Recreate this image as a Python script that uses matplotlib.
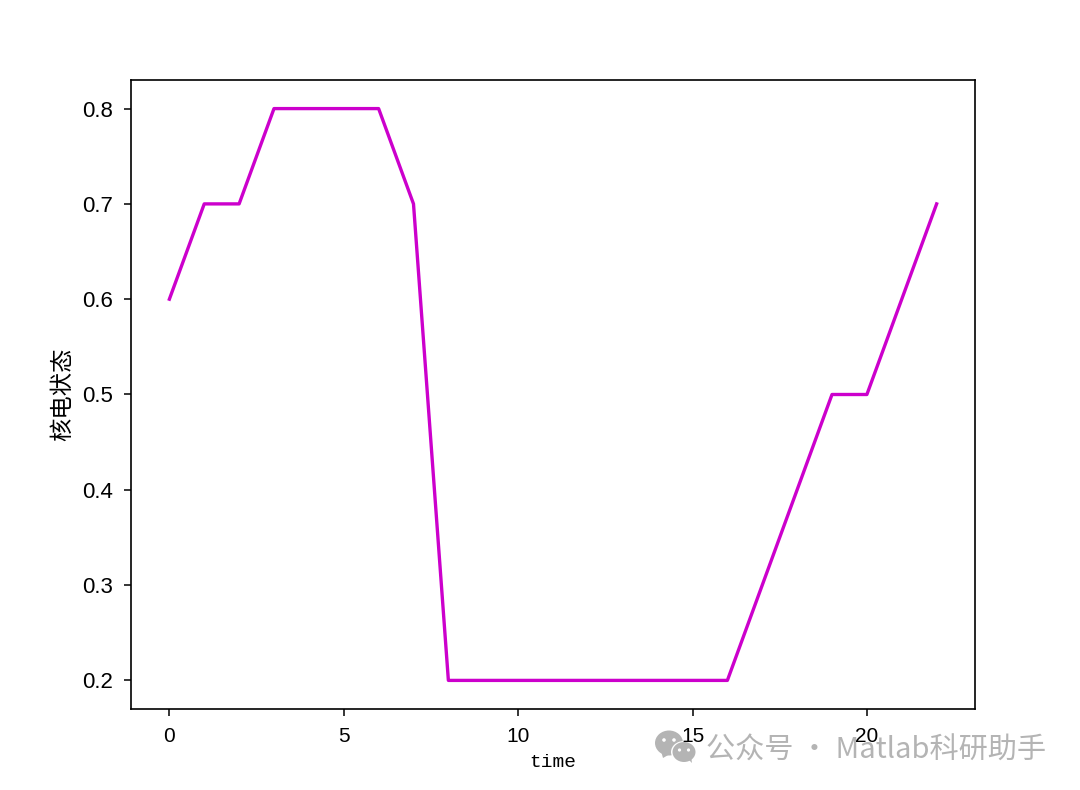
import matplotlib
matplotlib.use("Agg")
import matplotlib.pyplot as plt
from matplotlib.patches import Ellipse, Polygon

plt.rcParams['font.family'] = ['Noto Sans CJK SC', 'DejaVu Sans']

time = list(range(23))
state = [0.6, 0.7, 0.7, 0.8, 0.8, 0.8, 0.8, 0.7, 0.2, 0.2, 0.2, 0.2, 0.2, 0.2, 0.2, 0.2, 0.2,
         0.3, 0.4, 0.5, 0.5, 0.6, 0.7]
xticks = [0, 5, 10, 15, 20]
yticks = [0.2, 0.3, 0.4, 0.5, 0.6, 0.7, 0.8]
ylabels = ['0.2', '0.3', '0.4', '0.5', '0.6', '0.7', '0.8']
mono = ['Liberation Mono', 'DejaVu Sans Mono']
sans = ['Liberation Sans', 'DejaVu Sans']
W, H = 1080, 790
GREY = '#b4b4b4'

fig = plt.figure(figsize=(W / 100, H / 100), dpi=100)
ax = fig.add_axes([131 / W, 1 - 709 / H, (975 - 131) / W, (709 - 80) / H])
ax.plot(time, state, color='#cc00cc', linewidth=2.4)
ax.set_xlim(-1.1, 23.1)
ax.set_ylim(0.17, 0.83)
ax.set_xticks(xticks)
ax.set_yticks(yticks)
ax.set_xticklabels([str(t) for t in xticks], family=sans, fontsize=15)
ax.set_yticklabels(ylabels, family=sans, fontsize=16)
ax.tick_params(length=5, width=1.1)
ax.tick_params(axis='x', pad=8)
ax.tick_params(axis='y', pad=8)
for s in ax.spines.values():
    s.set_linewidth(1.2)
ax.set_xlabel('time', family=mono, fontsize=14, labelpad=6)
ax.set_ylabel('核电状态', fontsize=16.8, labelpad=6)


def px(x, y):
    return (x / W, 1 - y / H)


def bubble(cx, cy, w, h, tail, color, zorder):
    fig.add_artist(Ellipse(px(cx, cy), w / W, h / H, transform=fig.transFigure,
                           facecolor=color, edgecolor='none', zorder=zorder))
    fig.add_artist(Polygon([px(*p) for p in tail], transform=fig.transFigure,
                           facecolor=color, edgecolor='none', zorder=zorder))


def eyes(cx, cy, gap, r, color, zorder):
    for dx in (-gap, gap):
        fig.add_artist(Ellipse(px(cx + dx, cy), 2 * r / W, 2 * r / H, transform=fig.transFigure,
                               facecolor=color, edgecolor='none', zorder=zorder))


bubble(669, 743, 28, 25, [(661, 751), (663, 758), (670, 754)], GREY, -3)
eyes(669, 740, 5, 1.8, 'white', -3)
bubble(684, 752, 26, 22, [(688, 759), (692, 764), (692, 756)], 'white', -2.5)
bubble(684, 752, 23, 20, [(688, 759), (692, 763), (691, 756)], GREY, -2)
eyes(684, 750, 4.5, 1.6, 'white', -2)
fig.text(706 / W, 1 - 751 / H, '公众号 · Matlab科研助手', fontsize=21, color=GREY,
         va='center', zorder=-1)
fig.savefig('out.png', dpi=100)
